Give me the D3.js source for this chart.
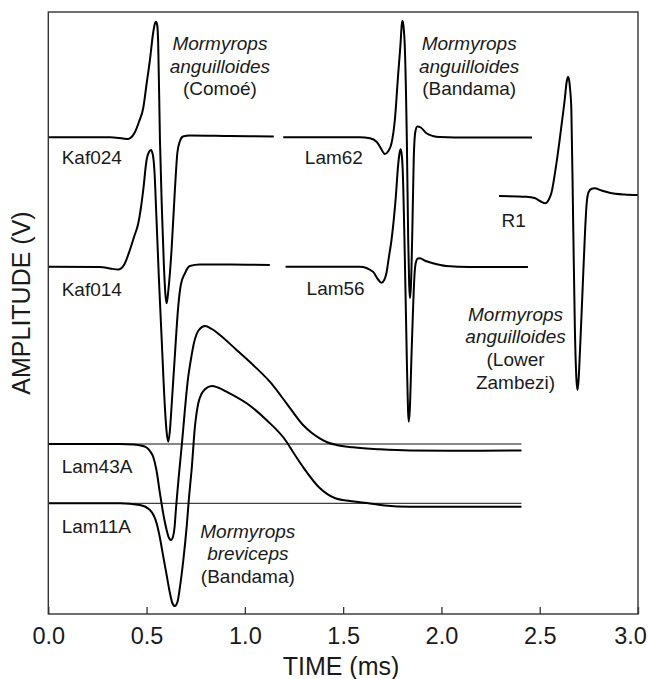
<!DOCTYPE html>
<html>
<head>
<meta charset="utf-8">
<script src="https://cdn.jsdelivr.net/npm/d3@7"></script>
<style>
  html, body { margin: 0; padding: 0; background: #fff; }
  svg { display: block; }
  text { font-family: "Liberation Sans", Arial, Helvetica, sans-serif; fill: #1a1a1a; }
</style>
</head>
<body>
<svg id="chart" width="648" height="679"></svg>
<script>
// ---- Data (time in ms, amplitude in arbitrary volt units incl. vertical offset) ----
const xTicks = [0.0, 0.5, 1.0, 1.5, 2.0, 2.5, 3.0];

const kaf024 = [[0,47.67],[0.314,47.67],[0.380,47.55],[0.407,47.5],[0.426,47.75],[0.441,48.2],[0.461,49.2],[0.483,50.6],[0.500,53.0],[0.517,55.4],[0.534,58.2],[0.5425,59.05],[0.5475,59.23],[0.554,58.9],[0.559,57.1],[0.568,47.4],[0.578,40.4],[0.588,34.9],[0.596,31.9],[0.602,31.07],[0.611,32.4],[0.627,36.4],[0.644,42.4],[0.657,46.2],[0.670,47.3],[0.685,47.75],[0.720,47.85],[0.924,47.8],[1.147,47.75]];

const kaf014 = [[0,34.73],[0.263,34.7],[0.314,34.55],[0.356,34.45],[0.385,34.9],[0.415,36.4],[0.436,37.7],[0.458,39.1],[0.471,40.6],[0.483,42.4],[0.500,45.4],[0.512,46.2],[0.522,46.4],[0.531,46.0],[0.540,44.3],[0.550,39.7],[0.563,33.4],[0.577,27.4],[0.593,20.73],[0.602,18.2],[0.610,17.23],[0.618,18.2],[0.627,20.73],[0.644,25.9],[0.661,30.73],[0.674,32.9],[0.695,34.07],[0.720,34.8],[0.771,34.95],[0.924,34.95],[1.127,34.9]];

const lam62 = [[1.195,47.67],[1.585,47.67],[1.636,47.57],[1.670,47.23],[1.691,46.6],[1.712,46.0],[1.730,46.3],[1.746,47.07],[1.763,49.4],[1.779,53.73],[1.792,57.07],[1.798,58.9],[1.802,59.33],[1.807,58.8],[1.813,57.07],[1.824,47.4],[1.831,37.4],[1.836,32.9],[1.840,31.57],[1.845,32.9],[1.852,38.4],[1.859,45.4],[1.867,48.2],[1.877,48.75],[1.895,48.65],[1.924,48.07],[1.956,47.8],[1.991,47.7],[2.144,47.65],[2.461,47.65]];

const lam56 = [[1.207,34.73],[1.585,34.73],[1.652,34.23],[1.676,33.5],[1.695,33.13],[1.709,33.4],[1.720,34.07],[1.732,35.6],[1.746,37.4],[1.768,41.73],[1.779,44.73],[1.787,46.1],[1.792,46.47],[1.797,46.1],[1.803,44.4],[1.813,36.4],[1.824,25.4],[1.830,20.4],[1.834,19.23],[1.839,20.4],[1.847,25.4],[1.856,30.73],[1.863,33.9],[1.869,35.07],[1.880,35.55],[1.890,35.57],[1.920,35.3],[1.957,35.07],[2.025,34.8],[2.144,34.7],[2.440,34.7]];

const r1 = [[2.293,41.8],[2.432,41.73],[2.474,41.6],[2.505,41.25],[2.529,41.07],[2.545,41.4],[2.559,42.07],[2.585,45.07],[2.610,48.73],[2.627,51.4],[2.637,53.2],[2.644,53.73],[2.651,53.2],[2.654,52.6],[2.661,50.4],[2.670,39.4],[2.679,28.4],[2.687,23.4],[2.692,22.4],[2.697,23.2],[2.705,26.4],[2.718,32.4],[2.731,38.4],[2.739,41.1],[2.749,42.2],[2.764,42.52],[2.779,42.57],[2.815,42.35],[2.855,42.13],[2.931,41.95],[3.0,41.9]];

const lam43A = [[0,17.0],[0.365,17.0],[0.432,16.95],[0.471,16.85],[0.500,16.65],[0.517,16.3],[0.534,15.7],[0.550,14.4],[0.568,12.07],[0.586,9.9],[0.602,8.4],[0.614,7.6],[0.624,7.4],[0.634,7.7],[0.642,8.6],[0.649,10.4],[0.680,17.1],[0.712,23.73],[0.725,25.4],[0.741,27.1],[0.766,28.4],[0.797,28.8],[0.832,28.5],[0.873,27.9],[0.958,26.4],[1.042,24.9],[1.127,23.23],[1.212,21.07],[1.296,18.9],[1.341,18.1],[1.381,17.57],[1.422,17.15],[1.466,16.9],[1.551,16.67],[1.686,16.47],[1.839,16.35],[2.042,16.33],[2.407,16.35]];

const lam11A = [[0,11.07],[0.365,11.07],[0.466,10.9],[0.517,10.4],[0.551,9.07],[0.568,7.6],[0.585,5.73],[0.602,3.9],[0.619,2.07],[0.631,1.1],[0.644,0.8],[0.657,1.2],[0.670,2.73],[0.687,5.4],[0.704,8.73],[0.716,11.7],[0.729,14.4],[0.746,18.73],[0.763,21.07],[0.779,22.0],[0.797,22.47],[0.831,22.8],[0.863,22.65],[0.907,22.23],[1.009,21.07],[1.110,19.4],[1.212,17.23],[1.245,16.2],[1.296,14.7],[1.381,12.6],[1.457,11.6],[1.535,11.3],[1.621,11.1],[1.712,10.85],[1.839,10.73],[2.407,10.73]];

// reference (zero) lines for the two M. breviceps recordings
const refLines = [{t0: 0, t1: 2.407, v: 17.0}, {t0: 0, t1: 2.407, v: 11.07}];

const traces = [kaf024, kaf014, lam62, lam56, r1, lam43A, lam11A];

// recording labels: [text, time(ms), amplitude]
const recLabels = [
  ["Kaf024", 0.068, 45.0],
  ["Kaf014", 0.068, 31.8],
  ["Lam62", 1.305, 45.05],
  ["Lam56", 1.314, 31.9],
  ["R1", 2.306, 38.75],
  ["Lam43A", 0.068, 14.07],
  ["Lam11A", 0.068, 8.13]
];

// species annotations: lines of [text, italic]
const speciesLabels = [
  {t: 0.873, v: 56.4, lines: [["Mormyrops", true], ["anguilloides", true], ["(Comoé)", false]]},
  {t: 2.141, v: 56.4, lines: [["Mormyrops", true], ["anguilloides", true], ["(Bandama)", false]]},
  {t: 2.377, v: 29.35, lines: [["Mormyrops", true], ["anguilloides", true], ["(Lower", false], ["Zambezi)", false]]},
  {t: 1.015, v: 7.65, lines: [["Mormyrops", true], ["breviceps", true], ["(Bandama)", false]]}
];

// ---- Drawing ----
const svg = d3.select("#chart");
const x = d3.scaleLinear().domain([0, 3]).range([48.3, 638]);
const y = d3.scaleLinear().domain([0, 60.2]).range([614, 12]);

const line = d3.line()
  .x(d => x(d[0]))
  .y(d => y(d[1]))
  .curve(d3.curveMonotoneX);

// thin reference lines
svg.append("g").selectAll("line").data(refLines).join("line")
  .attr("x1", d => x(d.t0)).attr("x2", d => x(d.t1))
  .attr("y1", d => y(d.v)).attr("y2", d => y(d.v))
  .attr("stroke", "#111").attr("stroke-width", 1);

// traces
svg.append("g").selectAll("path").data(traces).join("path")
  .attr("d", line)
  .attr("fill", "none")
  .attr("stroke", "#000")
  .attr("stroke-width", 2)
  .attr("stroke-linejoin", "round");

// frame
svg.append("rect")
  .attr("x", x(0)).attr("y", y(60.2))
  .attr("width", x(3) - x(0)).attr("height", y(0) - y(60.2))
  .attr("fill", "none").attr("stroke", "#333").attr("stroke-width", 1.4);

// x axis
const xAxis = d3.axisBottom(x)
  .tickValues(xTicks)
  .tickFormat(d3.format(".1f"))
  .tickSizeInner(-7)
  .tickSizeOuter(0)
  .tickPadding(13);
const gx = svg.append("g").attr("transform", `translate(0,${y(0)})`).call(xAxis);
gx.select(".domain").remove();
gx.selectAll(".tick line").attr("stroke", "#333").attr("stroke-width", 1.3);
gx.selectAll(".tick text")
  .attr("font-size", 23.5)
  .attr("font-family", "Liberation Sans, Arial, sans-serif")
  .attr("fill", "#1a1a1a")
  .attr("dx", d => d === 3 ? -8 : 0);

// axis titles
svg.append("text")
  .attr("x", 341).attr("y", 675)
  .attr("text-anchor", "middle").attr("font-size", 25)
  .text("TIME (ms)");

svg.append("text")
  .attr("transform", "translate(30,303) rotate(-90)")
  .attr("text-anchor", "middle").attr("font-size", 25)
  .text("AMPLITUDE (V)");

// recording labels
svg.append("g").selectAll("text").data(recLabels).join("text")
  .attr("x", d => x(d[1])).attr("y", d => y(d[2]))
  .attr("font-size", 19)
  .text(d => d[0]);

// species labels
const sp = svg.append("g").selectAll("text").data(speciesLabels).join("text")
  .attr("x", d => x(d.t)).attr("y", d => y(d.v))
  .attr("text-anchor", "middle").attr("font-size", 19);
sp.selectAll("tspan").data(d => d.lines.map(l => ({l, t: d.t}))).join("tspan")
  .attr("x", d => x(d.t))
  .attr("dy", (d, i) => i === 0 ? 0 : 22.7)
  .attr("font-style", d => d.l[1] ? "italic" : "normal")
  .text(d => d.l[0]);
</script>
</body>
</html>
